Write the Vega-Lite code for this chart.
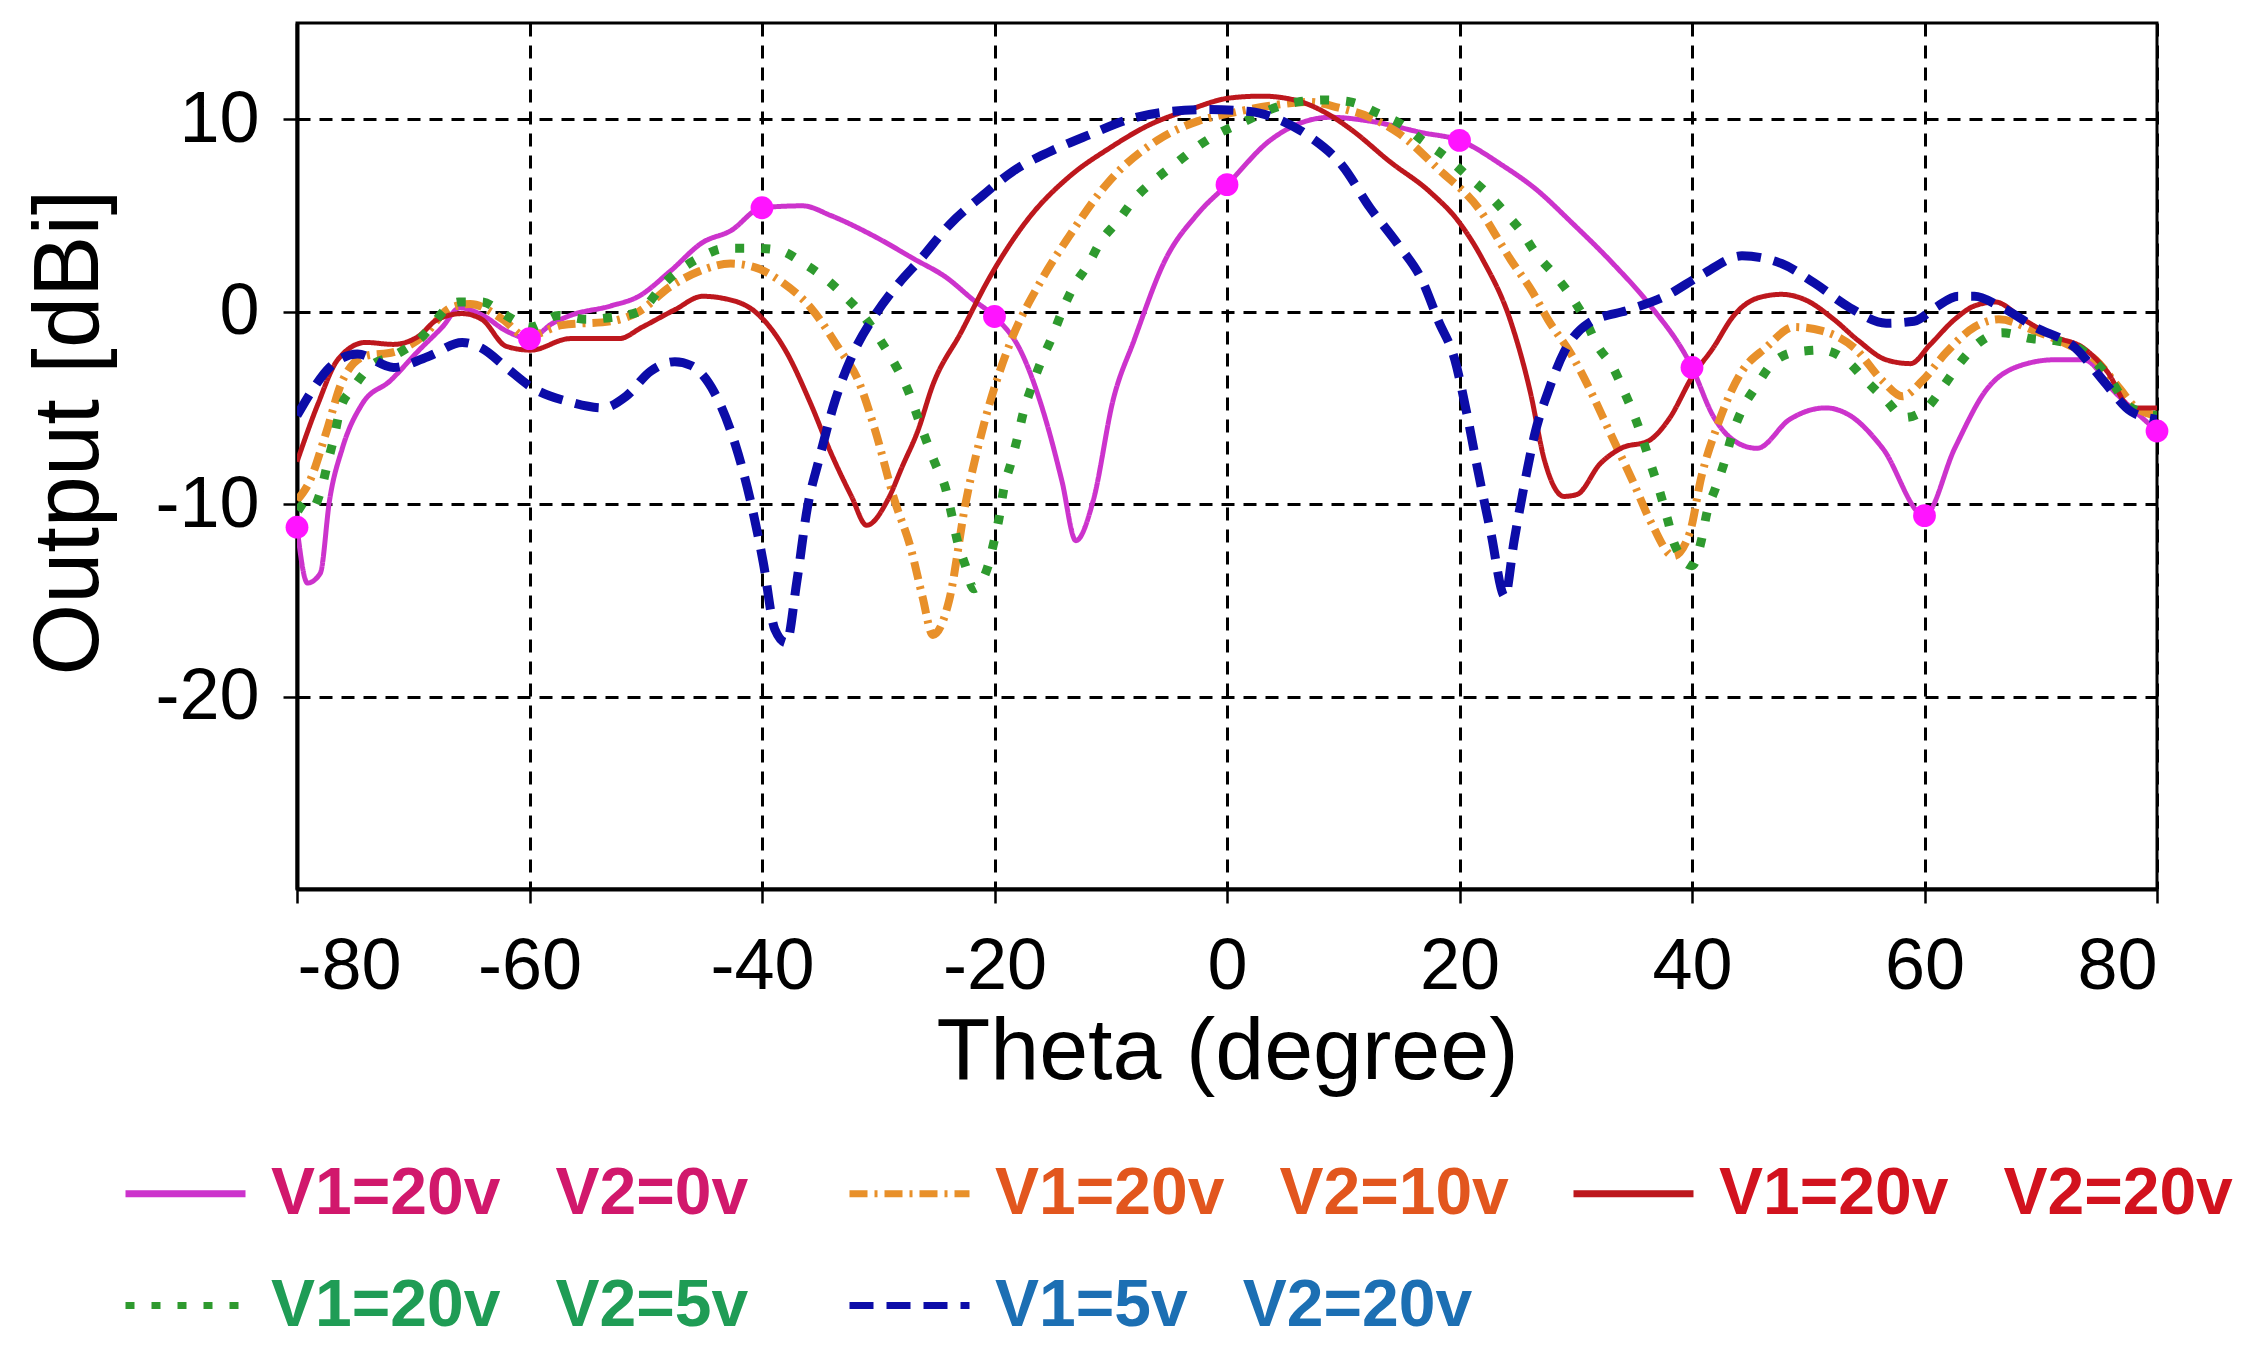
{
  "$schema": "https://vega.github.io/schema/vega-lite/v6.json",
  "width": 1860,
  "height": 866,
  "autosize": {"type": "none"},
  "padding": {"left": 297, "top": 23, "right": 103, "bottom": 482},
  "background": "white",
  "data": {
    "values": [
      {"series": "V1=20v V2=0v", "theta": -80, "dbi": -11.2},
      {"series": "V1=20v V2=0v", "theta": -79.1, "dbi": -14.1},
      {"series": "V1=20v V2=0v", "theta": -78, "dbi": -13.6},
      {"series": "V1=20v V2=0v", "theta": -77.2, "dbi": -9.8},
      {"series": "V1=20v V2=0v", "theta": -76.1, "dbi": -7.1},
      {"series": "V1=20v V2=0v", "theta": -74.4, "dbi": -4.8},
      {"series": "V1=20v V2=0v", "theta": -72, "dbi": -3.6},
      {"series": "V1=20v V2=0v", "theta": -69.5, "dbi": -2.0},
      {"series": "V1=20v V2=0v", "theta": -67.5, "dbi": -0.8},
      {"series": "V1=20v V2=0v", "theta": -66, "dbi": 0.2},
      {"series": "V1=20v V2=0v", "theta": -64, "dbi": -0.2},
      {"series": "V1=20v V2=0v", "theta": -62, "dbi": -1.0},
      {"series": "V1=20v V2=0v", "theta": -60, "dbi": -1.4},
      {"series": "V1=20v V2=0v", "theta": -58, "dbi": -0.6},
      {"series": "V1=20v V2=0v", "theta": -56.5, "dbi": -0.2},
      {"series": "V1=20v V2=0v", "theta": -53, "dbi": 0.3},
      {"series": "V1=20v V2=0v", "theta": -50.6, "dbi": 0.8},
      {"series": "V1=20v V2=0v", "theta": -47.9, "dbi": 2.1},
      {"series": "V1=20v V2=0v", "theta": -45.1, "dbi": 3.6},
      {"series": "V1=20v V2=0v", "theta": -42.7, "dbi": 4.2},
      {"series": "V1=20v V2=0v", "theta": -40, "dbi": 5.4},
      {"series": "V1=20v V2=0v", "theta": -36.5, "dbi": 5.5},
      {"series": "V1=20v V2=0v", "theta": -34.1, "dbi": 5.0},
      {"series": "V1=20v V2=0v", "theta": -30.6, "dbi": 4.0},
      {"series": "V1=20v V2=0v", "theta": -26.8, "dbi": 2.7},
      {"series": "V1=20v V2=0v", "theta": -24.2, "dbi": 1.8},
      {"series": "V1=20v V2=0v", "theta": -21.8, "dbi": 0.6},
      {"series": "V1=20v V2=0v", "theta": -20, "dbi": -0.25},
      {"series": "V1=20v V2=0v", "theta": -17.7, "dbi": -2.1},
      {"series": "V1=20v V2=0v", "theta": -15.6, "dbi": -5.6},
      {"series": "V1=20v V2=0v", "theta": -14.2, "dbi": -8.8},
      {"series": "V1=20v V2=0v", "theta": -13, "dbi": -11.9},
      {"series": "V1=20v V2=0v", "theta": -11.5, "dbi": -9.8},
      {"series": "V1=20v V2=0v", "theta": -9.8, "dbi": -4.6},
      {"series": "V1=20v V2=0v", "theta": -8, "dbi": -1.5},
      {"series": "V1=20v V2=0v", "theta": -5.3, "dbi": 2.7},
      {"series": "V1=20v V2=0v", "theta": -2.5, "dbi": 5.1},
      {"series": "V1=20v V2=0v", "theta": 0, "dbi": 6.6},
      {"series": "V1=20v V2=0v", "theta": 3.7, "dbi": 8.9},
      {"series": "V1=20v V2=0v", "theta": 6.8, "dbi": 9.9},
      {"series": "V1=20v V2=0v", "theta": 8.9, "dbi": 10.1},
      {"series": "V1=20v V2=0v", "theta": 12.3, "dbi": 9.9},
      {"series": "V1=20v V2=0v", "theta": 16.8, "dbi": 9.3},
      {"series": "V1=20v V2=0v", "theta": 20, "dbi": 8.9},
      {"series": "V1=20v V2=0v", "theta": 23.7, "dbi": 7.6},
      {"series": "V1=20v V2=0v", "theta": 26.5, "dbi": 6.4},
      {"series": "V1=20v V2=0v", "theta": 29.7, "dbi": 4.6},
      {"series": "V1=20v V2=0v", "theta": 33.2, "dbi": 2.5},
      {"series": "V1=20v V2=0v", "theta": 36.3, "dbi": 0.4},
      {"series": "V1=20v V2=0v", "theta": 40, "dbi": -2.9},
      {"series": "V1=20v V2=0v", "theta": 41.8, "dbi": -5.4},
      {"series": "V1=20v V2=0v", "theta": 44.6, "dbi": -7.0},
      {"series": "V1=20v V2=0v", "theta": 45.6, "dbi": -7.1},
      {"series": "V1=20v V2=0v", "theta": 48.4, "dbi": -5.6},
      {"series": "V1=20v V2=0v", "theta": 51.5, "dbi": -5.0},
      {"series": "V1=20v V2=0v", "theta": 53.6, "dbi": -5.4},
      {"series": "V1=20v V2=0v", "theta": 56.4, "dbi": -7.1},
      {"series": "V1=20v V2=0v", "theta": 60, "dbi": -10.6},
      {"series": "V1=20v V2=0v", "theta": 62.6, "dbi": -7.1},
      {"series": "V1=20v V2=0v", "theta": 65.4, "dbi": -4.0},
      {"series": "V1=20v V2=0v", "theta": 67.8, "dbi": -2.9},
      {"series": "V1=20v V2=0v", "theta": 71.2, "dbi": -2.5},
      {"series": "V1=20v V2=0v", "theta": 73.7, "dbi": -2.5},
      {"series": "V1=20v V2=0v", "theta": 76.4, "dbi": -4.2},
      {"series": "V1=20v V2=0v", "theta": 80, "dbi": -6.2},

      {"series": "V1=20v V2=10v", "theta": -80, "dbi": -9.8},
      {"series": "V1=20v V2=10v", "theta": -78.9, "dbi": -8.8},
      {"series": "V1=20v V2=10v", "theta": -77.5, "dbi": -6.3},
      {"series": "V1=20v V2=10v", "theta": -76.1, "dbi": -3.6},
      {"series": "V1=20v V2=10v", "theta": -74.1, "dbi": -2.3},
      {"series": "V1=20v V2=10v", "theta": -71.7, "dbi": -2.1},
      {"series": "V1=20v V2=10v", "theta": -69.2, "dbi": -1.3},
      {"series": "V1=20v V2=10v", "theta": -66.8, "dbi": 0.2},
      {"series": "V1=20v V2=10v", "theta": -65.1, "dbi": 0.4},
      {"series": "V1=20v V2=10v", "theta": -62.3, "dbi": -0.4},
      {"series": "V1=20v V2=10v", "theta": -60.3, "dbi": -1.3},
      {"series": "V1=20v V2=10v", "theta": -57.2, "dbi": -0.7},
      {"series": "V1=20v V2=10v", "theta": -53, "dbi": -0.5},
      {"series": "V1=20v V2=10v", "theta": -50.6, "dbi": 0},
      {"series": "V1=20v V2=10v", "theta": -47.9, "dbi": 1.3},
      {"series": "V1=20v V2=10v", "theta": -45.4, "dbi": 2.1},
      {"series": "V1=20v V2=10v", "theta": -42.7, "dbi": 2.5},
      {"series": "V1=20v V2=10v", "theta": -40.6, "dbi": 2.3},
      {"series": "V1=20v V2=10v", "theta": -38.2, "dbi": 1.5},
      {"series": "V1=20v V2=10v", "theta": -35.8, "dbi": 0.2},
      {"series": "V1=20v V2=10v", "theta": -33.4, "dbi": -1.9},
      {"series": "V1=20v V2=10v", "theta": -31.7, "dbi": -3.6},
      {"series": "V1=20v V2=10v", "theta": -30.3, "dbi": -6.1},
      {"series": "V1=20v V2=10v", "theta": -28.6, "dbi": -9.8},
      {"series": "V1=20v V2=10v", "theta": -27.2, "dbi": -12.3},
      {"series": "V1=20v V2=10v", "theta": -26.2, "dbi": -14.8},
      {"series": "V1=20v V2=10v", "theta": -25.3, "dbi": -16.8},
      {"series": "V1=20v V2=10v", "theta": -23.9, "dbi": -15.0},
      {"series": "V1=20v V2=10v", "theta": -22.5, "dbi": -10.0},
      {"series": "V1=20v V2=10v", "theta": -20.8, "dbi": -5.6},
      {"series": "V1=20v V2=10v", "theta": -18.7, "dbi": -1.7},
      {"series": "V1=20v V2=10v", "theta": -16, "dbi": 1.6},
      {"series": "V1=20v V2=10v", "theta": -13.6, "dbi": 3.9},
      {"series": "V1=20v V2=10v", "theta": -10.1, "dbi": 6.8},
      {"series": "V1=20v V2=10v", "theta": -6, "dbi": 8.9},
      {"series": "V1=20v V2=10v", "theta": -2.5, "dbi": 9.9},
      {"series": "V1=20v V2=10v", "theta": 0.2, "dbi": 10.3},
      {"series": "V1=20v V2=10v", "theta": 3.7, "dbi": 10.7},
      {"series": "V1=20v V2=10v", "theta": 7.1, "dbi": 10.9},
      {"series": "V1=20v V2=10v", "theta": 9.6, "dbi": 10.6},
      {"series": "V1=20v V2=10v", "theta": 12.3, "dbi": 10.1},
      {"series": "V1=20v V2=10v", "theta": 14.7, "dbi": 9.3},
      {"series": "V1=20v V2=10v", "theta": 18.2, "dbi": 7.4},
      {"series": "V1=20v V2=10v", "theta": 21.6, "dbi": 5.4},
      {"series": "V1=20v V2=10v", "theta": 24.4, "dbi": 2.7},
      {"series": "V1=20v V2=10v", "theta": 26.3, "dbi": 1.0},
      {"series": "V1=20v V2=10v", "theta": 27.6, "dbi": -0.4},
      {"series": "V1=20v V2=10v", "theta": 29.7, "dbi": -2.3},
      {"series": "V1=20v V2=10v", "theta": 31.5, "dbi": -4.4},
      {"series": "V1=20v V2=10v", "theta": 32.8, "dbi": -6.1},
      {"series": "V1=20v V2=10v", "theta": 34.9, "dbi": -8.8},
      {"series": "V1=20v V2=10v", "theta": 36.6, "dbi": -11.1},
      {"series": "V1=20v V2=10v", "theta": 38.4, "dbi": -12.7},
      {"series": "V1=20v V2=10v", "theta": 39.8, "dbi": -11.5},
      {"series": "V1=20v V2=10v", "theta": 40.8, "dbi": -8.6},
      {"series": "V1=20v V2=10v", "theta": 42.2, "dbi": -5.9},
      {"series": "V1=20v V2=10v", "theta": 44.3, "dbi": -3.1},
      {"series": "V1=20v V2=10v", "theta": 46.3, "dbi": -1.9},
      {"series": "V1=20v V2=10v", "theta": 48.8, "dbi": -0.8},
      {"series": "V1=20v V2=10v", "theta": 51.2, "dbi": -1.0},
      {"series": "V1=20v V2=10v", "theta": 54, "dbi": -1.9},
      {"series": "V1=20v V2=10v", "theta": 56.4, "dbi": -3.6},
      {"series": "V1=20v V2=10v", "theta": 58.1, "dbi": -4.4},
      {"series": "V1=20v V2=10v", "theta": 59.8, "dbi": -3.6},
      {"series": "V1=20v V2=10v", "theta": 61.9, "dbi": -2.1},
      {"series": "V1=20v V2=10v", "theta": 64.3, "dbi": -0.8},
      {"series": "V1=20v V2=10v", "theta": 66.4, "dbi": -0.4},
      {"series": "V1=20v V2=10v", "theta": 69.5, "dbi": -1.0},
      {"series": "V1=20v V2=10v", "theta": 72.3, "dbi": -1.7},
      {"series": "V1=20v V2=10v", "theta": 74.7, "dbi": -2.5},
      {"series": "V1=20v V2=10v", "theta": 76.8, "dbi": -4.0},
      {"series": "V1=20v V2=10v", "theta": 78.2, "dbi": -5.0},
      {"series": "V1=20v V2=10v", "theta": 80, "dbi": -5.4},

      {"series": "V1=20v V2=20v", "theta": -80, "dbi": -7.8},
      {"series": "V1=20v V2=20v", "theta": -78.2, "dbi": -4.8},
      {"series": "V1=20v V2=20v", "theta": -76.5, "dbi": -2.5},
      {"series": "V1=20v V2=20v", "theta": -74.1, "dbi": -1.6},
      {"series": "V1=20v V2=20v", "theta": -71.7, "dbi": -1.7},
      {"series": "V1=20v V2=20v", "theta": -69.6, "dbi": -1.3},
      {"series": "V1=20v V2=20v", "theta": -67.9, "dbi": -0.4},
      {"series": "V1=20v V2=20v", "theta": -65.8, "dbi": -0.1},
      {"series": "V1=20v V2=20v", "theta": -64.1, "dbi": -0.4},
      {"series": "V1=20v V2=20v", "theta": -62, "dbi": -1.8},
      {"series": "V1=20v V2=20v", "theta": -59.9, "dbi": -2.0},
      {"series": "V1=20v V2=20v", "theta": -56.5, "dbi": -1.4},
      {"series": "V1=20v V2=20v", "theta": -52.3, "dbi": -1.4},
      {"series": "V1=20v V2=20v", "theta": -50.3, "dbi": -0.8},
      {"series": "V1=20v V2=20v", "theta": -47.5, "dbi": 0.1},
      {"series": "V1=20v V2=20v", "theta": -45.1, "dbi": 0.8},
      {"series": "V1=20v V2=20v", "theta": -43.4, "dbi": 0.7},
      {"series": "V1=20v V2=20v", "theta": -40.6, "dbi": 0},
      {"series": "V1=20v V2=20v", "theta": -37.9, "dbi": -2.1},
      {"series": "V1=20v V2=20v", "theta": -35.8, "dbi": -4.8},
      {"series": "V1=20v V2=20v", "theta": -34.1, "dbi": -7.3},
      {"series": "V1=20v V2=20v", "theta": -32.3, "dbi": -9.6},
      {"series": "V1=20v V2=20v", "theta": -31, "dbi": -11.1},
      {"series": "V1=20v V2=20v", "theta": -29.2, "dbi": -9.8},
      {"series": "V1=20v V2=20v", "theta": -27.9, "dbi": -8.0},
      {"series": "V1=20v V2=20v", "theta": -26.6, "dbi": -6.2},
      {"series": "V1=20v V2=20v", "theta": -25.3, "dbi": -3.8},
      {"series": "V1=20v V2=20v", "theta": -22.9, "dbi": -1.1},
      {"series": "V1=20v V2=20v", "theta": -20.4, "dbi": 1.8},
      {"series": "V1=20v V2=20v", "theta": -17, "dbi": 4.9},
      {"series": "V1=20v V2=20v", "theta": -13.6, "dbi": 7.0},
      {"series": "V1=20v V2=20v", "theta": -10.1, "dbi": 8.5},
      {"series": "V1=20v V2=20v", "theta": -6.7, "dbi": 9.7},
      {"series": "V1=20v V2=20v", "theta": -3.2, "dbi": 10.5},
      {"series": "V1=20v V2=20v", "theta": 0.2, "dbi": 11.1},
      {"series": "V1=20v V2=20v", "theta": 3, "dbi": 11.2},
      {"series": "V1=20v V2=20v", "theta": 5.8, "dbi": 11.0},
      {"series": "V1=20v V2=20v", "theta": 8.6, "dbi": 10.3},
      {"series": "V1=20v V2=20v", "theta": 10.6, "dbi": 9.5},
      {"series": "V1=20v V2=20v", "theta": 14, "dbi": 7.8},
      {"series": "V1=20v V2=20v", "theta": 17.5, "dbi": 6.2},
      {"series": "V1=20v V2=20v", "theta": 19.9, "dbi": 4.7},
      {"series": "V1=20v V2=20v", "theta": 22, "dbi": 2.7},
      {"series": "V1=20v V2=20v", "theta": 24.4, "dbi": -0.5},
      {"series": "V1=20v V2=20v", "theta": 26.1, "dbi": -4.2},
      {"series": "V1=20v V2=20v", "theta": 27.3, "dbi": -7.7},
      {"series": "V1=20v V2=20v", "theta": 29, "dbi": -9.6},
      {"series": "V1=20v V2=20v", "theta": 30.1, "dbi": -9.5},
      {"series": "V1=20v V2=20v", "theta": 32.1, "dbi": -7.9},
      {"series": "V1=20v V2=20v", "theta": 33.9, "dbi": -7.1},
      {"series": "V1=20v V2=20v", "theta": 36.3, "dbi": -6.7},
      {"series": "V1=20v V2=20v", "theta": 38, "dbi": -5.6},
      {"series": "V1=20v V2=20v", "theta": 40.1, "dbi": -3.3},
      {"series": "V1=20v V2=20v", "theta": 41.8, "dbi": -1.9},
      {"series": "V1=20v V2=20v", "theta": 43.6, "dbi": -0.2},
      {"series": "V1=20v V2=20v", "theta": 45.6, "dbi": 0.7},
      {"series": "V1=20v V2=20v", "theta": 47.7, "dbi": 0.9},
      {"series": "V1=20v V2=20v", "theta": 49.8, "dbi": 0.6},
      {"series": "V1=20v V2=20v", "theta": 52.2, "dbi": -0.4},
      {"series": "V1=20v V2=20v", "theta": 54.3, "dbi": -1.5},
      {"series": "V1=20v V2=20v", "theta": 56.7, "dbi": -2.5},
      {"series": "V1=20v V2=20v", "theta": 58.8, "dbi": -2.7},
      {"series": "V1=20v V2=20v", "theta": 60.5, "dbi": -1.7},
      {"series": "V1=20v V2=20v", "theta": 62.6, "dbi": -0.4},
      {"series": "V1=20v V2=20v", "theta": 64.3, "dbi": 0.3},
      {"series": "V1=20v V2=20v", "theta": 66.1, "dbi": 0.5},
      {"series": "V1=20v V2=20v", "theta": 68.5, "dbi": -0.4},
      {"series": "V1=20v V2=20v", "theta": 71.2, "dbi": -1.3},
      {"series": "V1=20v V2=20v", "theta": 73.7, "dbi": -1.9},
      {"series": "V1=20v V2=20v", "theta": 75.7, "dbi": -3.1},
      {"series": "V1=20v V2=20v", "theta": 77.8, "dbi": -5.0},
      {"series": "V1=20v V2=20v", "theta": 80, "dbi": -5.0},

      {"series": "V1=20v V2=5v", "theta": -80, "dbi": -10.0},
      {"series": "V1=20v V2=5v", "theta": -78.9, "dbi": -10.4},
      {"series": "V1=20v V2=5v", "theta": -77.9, "dbi": -9.2},
      {"series": "V1=20v V2=5v", "theta": -77.3, "dbi": -7.7},
      {"series": "V1=20v V2=5v", "theta": -76.8, "dbi": -6.5},
      {"series": "V1=20v V2=5v", "theta": -76.3, "dbi": -5.1},
      {"series": "V1=20v V2=5v", "theta": -75.1, "dbi": -3.9},
      {"series": "V1=20v V2=5v", "theta": -73.6, "dbi": -2.8},
      {"series": "V1=20v V2=5v", "theta": -71.7, "dbi": -2.3},
      {"series": "V1=20v V2=5v", "theta": -69.6, "dbi": -1.5},
      {"series": "V1=20v V2=5v", "theta": -66.1, "dbi": 0.5},
      {"series": "V1=20v V2=5v", "theta": -64.1, "dbi": 0.5},
      {"series": "V1=20v V2=5v", "theta": -62, "dbi": -0.2},
      {"series": "V1=20v V2=5v", "theta": -59.9, "dbi": -0.8},
      {"series": "V1=20v V2=5v", "theta": -57.5, "dbi": -0.2},
      {"series": "V1=20v V2=5v", "theta": -55.1, "dbi": -0.4},
      {"series": "V1=20v V2=5v", "theta": -53, "dbi": -0.3},
      {"series": "V1=20v V2=5v", "theta": -50.6, "dbi": 0},
      {"series": "V1=20v V2=5v", "theta": -48.2, "dbi": 1.6},
      {"series": "V1=20v V2=5v", "theta": -45.4, "dbi": 2.8},
      {"series": "V1=20v V2=5v", "theta": -43, "dbi": 3.3},
      {"series": "V1=20v V2=5v", "theta": -40.8, "dbi": 3.3},
      {"series": "V1=20v V2=5v", "theta": -38.6, "dbi": 3.2},
      {"series": "V1=20v V2=5v", "theta": -36.4, "dbi": 2.5},
      {"series": "V1=20v V2=5v", "theta": -34.5, "dbi": 1.7},
      {"series": "V1=20v V2=5v", "theta": -32.7, "dbi": 0.7},
      {"series": "V1=20v V2=5v", "theta": -31.3, "dbi": -0.2},
      {"series": "V1=20v V2=5v", "theta": -29.8, "dbi": -1.5},
      {"series": "V1=20v V2=5v", "theta": -28.6, "dbi": -2.7},
      {"series": "V1=20v V2=5v", "theta": -27.5, "dbi": -4.0},
      {"series": "V1=20v V2=5v", "theta": -26.3, "dbi": -6.0},
      {"series": "V1=20v V2=5v", "theta": -25.1, "dbi": -7.9},
      {"series": "V1=20v V2=5v", "theta": -24.2, "dbi": -9.2},
      {"series": "V1=20v V2=5v", "theta": -23.7, "dbi": -10.5},
      {"series": "V1=20v V2=5v", "theta": -23.2, "dbi": -11.9},
      {"series": "V1=20v V2=5v", "theta": -22.5, "dbi": -13.2},
      {"series": "V1=20v V2=5v", "theta": -21.8, "dbi": -14.4},
      {"series": "V1=20v V2=5v", "theta": -20.6, "dbi": -13.3},
      {"series": "V1=20v V2=5v", "theta": -20.1, "dbi": -12.1},
      {"series": "V1=20v V2=5v", "theta": -19.6, "dbi": -10.7},
      {"series": "V1=20v V2=5v", "theta": -19.2, "dbi": -9.2},
      {"series": "V1=20v V2=5v", "theta": -18.6, "dbi": -7.9},
      {"series": "V1=20v V2=5v", "theta": -18, "dbi": -6.5},
      {"series": "V1=20v V2=5v", "theta": -17.5, "dbi": -5.2},
      {"series": "V1=20v V2=5v", "theta": -16.8, "dbi": -3.9},
      {"series": "V1=20v V2=5v", "theta": -16, "dbi": -2.6},
      {"series": "V1=20v V2=5v", "theta": -15.1, "dbi": -1.4},
      {"series": "V1=20v V2=5v", "theta": -14.2, "dbi": 0},
      {"series": "V1=20v V2=5v", "theta": -13.2, "dbi": 1.3},
      {"series": "V1=20v V2=5v", "theta": -12, "dbi": 2.4},
      {"series": "V1=20v V2=5v", "theta": -10.8, "dbi": 3.7},
      {"series": "V1=20v V2=5v", "theta": -9.4, "dbi": 4.7},
      {"series": "V1=20v V2=5v", "theta": -7.9, "dbi": 5.9},
      {"series": "V1=20v V2=5v", "theta": -6.3, "dbi": 6.8},
      {"series": "V1=20v V2=5v", "theta": -4.4, "dbi": 7.7},
      {"series": "V1=20v V2=5v", "theta": -2.5, "dbi": 8.6},
      {"series": "V1=20v V2=5v", "theta": -0.6, "dbi": 9.3},
      {"series": "V1=20v V2=5v", "theta": 1.6, "dbi": 9.9},
      {"series": "V1=20v V2=5v", "theta": 3.7, "dbi": 10.5},
      {"series": "V1=20v V2=5v", "theta": 6.1, "dbi": 10.9},
      {"series": "V1=20v V2=5v", "theta": 8.5, "dbi": 11.0},
      {"series": "V1=20v V2=5v", "theta": 10.6, "dbi": 10.9},
      {"series": "V1=20v V2=5v", "theta": 13, "dbi": 10.3},
      {"series": "V1=20v V2=5v", "theta": 15.1, "dbi": 9.7},
      {"series": "V1=20v V2=5v", "theta": 16.8, "dbi": 8.9},
      {"series": "V1=20v V2=5v", "theta": 18.9, "dbi": 8.0},
      {"series": "V1=20v V2=5v", "theta": 20.6, "dbi": 7.1},
      {"series": "V1=20v V2=5v", "theta": 22.3, "dbi": 6.2},
      {"series": "V1=20v V2=5v", "theta": 24, "dbi": 5.1},
      {"series": "V1=20v V2=5v", "theta": 25.4, "dbi": 4.1},
      {"series": "V1=20v V2=5v", "theta": 26.6, "dbi": 3.0},
      {"series": "V1=20v V2=5v", "theta": 28.2, "dbi": 1.9},
      {"series": "V1=20v V2=5v", "theta": 29.6, "dbi": 0.8},
      {"series": "V1=20v V2=5v", "theta": 30.8, "dbi": -0.4},
      {"series": "V1=20v V2=5v", "theta": 31.8, "dbi": -1.7},
      {"series": "V1=20v V2=5v", "theta": 33.2, "dbi": -2.9},
      {"series": "V1=20v V2=5v", "theta": 34.2, "dbi": -4.2},
      {"series": "V1=20v V2=5v", "theta": 35.1, "dbi": -5.5},
      {"series": "V1=20v V2=5v", "theta": 36.6, "dbi": -8.2},
      {"series": "V1=20v V2=5v", "theta": 37.3, "dbi": -9.5},
      {"series": "V1=20v V2=5v", "theta": 37.9, "dbi": -10.8},
      {"series": "V1=20v V2=5v", "theta": 38.5, "dbi": -12.1},
      {"series": "V1=20v V2=5v", "theta": 40, "dbi": -13.2},
      {"series": "V1=20v V2=5v", "theta": 40.8, "dbi": -11.9},
      {"series": "V1=20v V2=5v", "theta": 41.3, "dbi": -10.4},
      {"series": "V1=20v V2=5v", "theta": 42, "dbi": -9.2},
      {"series": "V1=20v V2=5v", "theta": 42.8, "dbi": -7.8},
      {"series": "V1=20v V2=5v", "theta": 43.4, "dbi": -6.5},
      {"series": "V1=20v V2=5v", "theta": 44.3, "dbi": -5.1},
      {"series": "V1=20v V2=5v", "theta": 45.5, "dbi": -3.9},
      {"series": "V1=20v V2=5v", "theta": 46.9, "dbi": -2.7},
      {"series": "V1=20v V2=5v", "theta": 48.9, "dbi": -2.1},
      {"series": "V1=20v V2=5v", "theta": 51.2, "dbi": -2.0},
      {"series": "V1=20v V2=5v", "theta": 53.4, "dbi": -2.6},
      {"series": "V1=20v V2=5v", "theta": 55, "dbi": -3.6},
      {"series": "V1=20v V2=5v", "theta": 56.7, "dbi": -4.6},
      {"series": "V1=20v V2=5v", "theta": 58.3, "dbi": -5.5},
      {"series": "V1=20v V2=5v", "theta": 60.2, "dbi": -5.0},
      {"series": "V1=20v V2=5v", "theta": 61.6, "dbi": -3.9},
      {"series": "V1=20v V2=5v", "theta": 63, "dbi": -2.7},
      {"series": "V1=20v V2=5v", "theta": 64.5, "dbi": -1.7},
      {"series": "V1=20v V2=5v", "theta": 66.7, "dbi": -1.1},
      {"series": "V1=20v V2=5v", "theta": 69.2, "dbi": -1.4},
      {"series": "V1=20v V2=5v", "theta": 71.2, "dbi": -1.5},
      {"series": "V1=20v V2=5v", "theta": 73.3, "dbi": -1.9},
      {"series": "V1=20v V2=5v", "theta": 75.7, "dbi": -3.3},
      {"series": "V1=20v V2=5v", "theta": 77.8, "dbi": -5.0},
      {"series": "V1=20v V2=5v", "theta": 80, "dbi": -5.4},

      {"series": "V1=5v V2=20v", "theta": -80, "dbi": -5.4},
      {"series": "V1=5v V2=20v", "theta": -78.6, "dbi": -4.0},
      {"series": "V1=5v V2=20v", "theta": -77.2, "dbi": -2.9},
      {"series": "V1=5v V2=20v", "theta": -74.8, "dbi": -2.2},
      {"series": "V1=5v V2=20v", "theta": -71.7, "dbi": -2.9},
      {"series": "V1=5v V2=20v", "theta": -68.6, "dbi": -2.3},
      {"series": "V1=5v V2=20v", "theta": -65.8, "dbi": -1.6},
      {"series": "V1=5v V2=20v", "theta": -64.1, "dbi": -1.9},
      {"series": "V1=5v V2=20v", "theta": -62, "dbi": -2.9},
      {"series": "V1=5v V2=20v", "theta": -59.9, "dbi": -3.9},
      {"series": "V1=5v V2=20v", "theta": -56.5, "dbi": -4.7},
      {"series": "V1=5v V2=20v", "theta": -53.7, "dbi": -5.0},
      {"series": "V1=5v V2=20v", "theta": -51.7, "dbi": -4.4},
      {"series": "V1=5v V2=20v", "theta": -49.6, "dbi": -3.1},
      {"series": "V1=5v V2=20v", "theta": -47.5, "dbi": -2.6},
      {"series": "V1=5v V2=20v", "theta": -46.1, "dbi": -2.8},
      {"series": "V1=5v V2=20v", "theta": -44.1, "dbi": -4.2},
      {"series": "V1=5v V2=20v", "theta": -42.3, "dbi": -6.9},
      {"series": "V1=5v V2=20v", "theta": -41, "dbi": -9.8},
      {"series": "V1=5v V2=20v", "theta": -39.9, "dbi": -13.0},
      {"series": "V1=5v V2=20v", "theta": -38.9, "dbi": -16.5},
      {"series": "V1=5v V2=20v", "theta": -37.9, "dbi": -17.2},
      {"series": "V1=5v V2=20v", "theta": -37, "dbi": -14.0},
      {"series": "V1=5v V2=20v", "theta": -36.1, "dbi": -10.2},
      {"series": "V1=5v V2=20v", "theta": -35.1, "dbi": -7.7},
      {"series": "V1=5v V2=20v", "theta": -33.7, "dbi": -4.6},
      {"series": "V1=5v V2=20v", "theta": -32.1, "dbi": -2.1},
      {"series": "V1=5v V2=20v", "theta": -30.3, "dbi": -0.2},
      {"series": "V1=5v V2=20v", "theta": -28.2, "dbi": 1.5},
      {"series": "V1=5v V2=20v", "theta": -26.4, "dbi": 2.7},
      {"series": "V1=5v V2=20v", "theta": -23.9, "dbi": 4.5},
      {"series": "V1=5v V2=20v", "theta": -21.1, "dbi": 6.0},
      {"series": "V1=5v V2=20v", "theta": -18.4, "dbi": 7.3},
      {"series": "V1=5v V2=20v", "theta": -15.3, "dbi": 8.3},
      {"series": "V1=5v V2=20v", "theta": -11.8, "dbi": 9.2},
      {"series": "V1=5v V2=20v", "theta": -8.4, "dbi": 10.0},
      {"series": "V1=5v V2=20v", "theta": -4.9, "dbi": 10.4},
      {"series": "V1=5v V2=20v", "theta": -1.5, "dbi": 10.5},
      {"series": "V1=5v V2=20v", "theta": 2, "dbi": 10.4},
      {"series": "V1=5v V2=20v", "theta": 4.4, "dbi": 10.0},
      {"series": "V1=5v V2=20v", "theta": 7.1, "dbi": 9.1},
      {"series": "V1=5v V2=20v", "theta": 9.9, "dbi": 7.6},
      {"series": "V1=5v V2=20v", "theta": 12.3, "dbi": 5.4},
      {"series": "V1=5v V2=20v", "theta": 14.7, "dbi": 3.5},
      {"series": "V1=5v V2=20v", "theta": 16.8, "dbi": 1.6},
      {"series": "V1=5v V2=20v", "theta": 18.2, "dbi": -0.5},
      {"series": "V1=5v V2=20v", "theta": 19.6, "dbi": -2.5},
      {"series": "V1=5v V2=20v", "theta": 20.6, "dbi": -5.2},
      {"series": "V1=5v V2=20v", "theta": 21.6, "dbi": -8.3},
      {"series": "V1=5v V2=20v", "theta": 22.7, "dbi": -11.5},
      {"series": "V1=5v V2=20v", "theta": 23.9, "dbi": -14.8},
      {"series": "V1=5v V2=20v", "theta": 24.7, "dbi": -11.9},
      {"series": "V1=5v V2=20v", "theta": 25.8, "dbi": -8.3},
      {"series": "V1=5v V2=20v", "theta": 26.5, "dbi": -6.3},
      {"series": "V1=5v V2=20v", "theta": 27.6, "dbi": -4.2},
      {"series": "V1=5v V2=20v", "theta": 29, "dbi": -2.1},
      {"series": "V1=5v V2=20v", "theta": 31.1, "dbi": -0.6},
      {"series": "V1=5v V2=20v", "theta": 34.6, "dbi": 0.1},
      {"series": "V1=5v V2=20v", "theta": 37.7, "dbi": 0.8},
      {"series": "V1=5v V2=20v", "theta": 40.8, "dbi": 1.9},
      {"series": "V1=5v V2=20v", "theta": 44.3, "dbi": 2.9},
      {"series": "V1=5v V2=20v", "theta": 47.7, "dbi": 2.5},
      {"series": "V1=5v V2=20v", "theta": 50.5, "dbi": 1.5},
      {"series": "V1=5v V2=20v", "theta": 53.6, "dbi": 0.2},
      {"series": "V1=5v V2=20v", "theta": 56.7, "dbi": -0.6},
      {"series": "V1=5v V2=20v", "theta": 59.1, "dbi": -0.5},
      {"series": "V1=5v V2=20v", "theta": 60.9, "dbi": 0.2},
      {"series": "V1=5v V2=20v", "theta": 62.9, "dbi": 0.8},
      {"series": "V1=5v V2=20v", "theta": 64.3, "dbi": 0.8},
      {"series": "V1=5v V2=20v", "theta": 66.4, "dbi": 0.3},
      {"series": "V1=5v V2=20v", "theta": 69.5, "dbi": -0.8},
      {"series": "V1=5v V2=20v", "theta": 73, "dbi": -1.9},
      {"series": "V1=5v V2=20v", "theta": 75.4, "dbi": -3.6},
      {"series": "V1=5v V2=20v", "theta": 77.8, "dbi": -5.2},
      {"series": "V1=5v V2=20v", "theta": 80, "dbi": -5.6}
    ]
  },
  "layer": [
    {
      "mark": {"type": "line", "interpolate": "monotone", "strokeCap": "butt", "clip": true},
      "encoding": {
        "x": {
          "field": "theta",
          "type": "quantitative",
          "scale": {"domain": [-80, 80], "nice": false},
          "axis": {"values": [-80, -60, -40, -20, 0, 20, 40, 60, 80], "title": "Theta (degree)", "titlePadding": 6, "labelPadding": 28}
        },
        "y": {
          "field": "dbi",
          "type": "quantitative",
          "scale": {"domain": [-30, 15], "nice": false, "zero": false},
          "axis": {"values": [-20, -10, 0, 10], "title": "Output [dBi]", "titlePadding": 38, "labelPadding": 24, "titleFontSize": 92, "titleY": 409}
        },
        "color": {
          "field": "series",
          "type": "nominal",
          "scale": {
            "domain": ["V1=20v V2=0v", "V1=20v V2=10v", "V1=20v V2=20v", "V1=20v V2=5v", "V1=5v V2=20v"],
            "range": ["#cc33cc", "#e8902a", "#bd171d", "#2e9a2e", "#0c0ca8"]
          },
          "legend": {
            "title": null,
            "orient": "none",
            "direction": "horizontal",
            "legendX": -175,
            "legendY": 1107,
            "columns": 3,
            "gridAlign": "all",
            "columnPadding": 50,
            "rowPadding": 15,
            "padding": 0,
            "symbolType": "stroke",
            "symbolSize": 14400,
            "symbolStrokeWidth": 7,
            "labelFont": "Liberation Sans",
            "labelFontWeight": "bold",
            "labelFontSize": 66,
            "labelOffset": 22,
            "labelLimit": 1000,
            "labelExpr": "replace(datum.label, ' ', '\u00a0\u00a0\u00a0')",
            "labelColor": {"expr": "datum.value == 'V1=20v V2=0v' ? '#d1186c' : datum.value == 'V1=20v V2=10v' ? '#e2561e' : datum.value == 'V1=20v V2=20v' ? '#d2121e' : datum.value == 'V1=20v V2=5v' ? '#1f9c55' : '#1c6fb3'"}
          }
        },
        "strokeDash": {
          "field": "series",
          "type": "nominal",
          "scale": {
            "domain": ["V1=20v V2=0v", "V1=20v V2=10v", "V1=20v V2=20v", "V1=20v V2=5v", "V1=5v V2=20v"],
            "range": [[1, 0], [18, 7, 3, 7], [1, 0], [9, 17], [24, 13]]
          }
        },
        "strokeWidth": {
          "condition": [
            {"test": "datum.series == 'V1=5v V2=20v'", "value": 9},
            {"test": "datum.series == 'V1=20v V2=5v'", "value": 9},
            {"test": "datum.series == 'V1=20v V2=10v'", "value": 8}
          ],
          "value": 5
        },
        "order": {"field": "theta", "type": "quantitative"}
      }
    },
    {
      "transform": [
        {"filter": "datum.series == 'V1=20v V2=0v'"},
        {"filter": {"field": "theta", "oneOf": [-80, -60, -40, -20, 0, 20, 40, 60, 80]}}
      ],
      "mark": {"type": "circle", "size": 520, "color": "#ff14ff", "opacity": 1, "clip": false},
      "encoding": {
        "x": {"field": "theta", "type": "quantitative"},
        "y": {"field": "dbi", "type": "quantitative"}
      }
    }
  ],
  "config": {
    "font": "Liberation Sans",
    "view": {"stroke": "black", "strokeWidth": 3},
    "axis": {
      "domainColor": "black",
      "domainWidth": 4,
      "tickColor": "black",
      "tickWidth": 2.5,
      "tickSize": 14,
      "grid": true,
      "gridColor": "black",
      "gridDash": [13, 9],
      "gridWidth": 3,
      "gridOpacity": 1,
      "labelFont": "Liberation Sans",
      "labelFontSize": 72,
      "labelColor": "black",
      "labelExpr": "replace(datum.label, '\u2212', '-')",
      "titleFont": "Liberation Sans",
      "titleFontSize": 88,
      "titleFontWeight": "normal",
      "titleColor": "black"
    }
  }
}
